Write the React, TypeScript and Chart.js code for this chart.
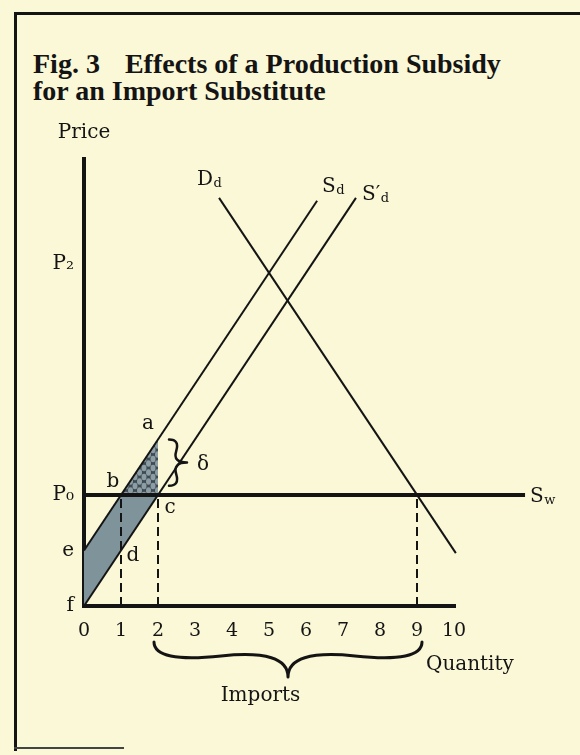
import React, { useEffect, useRef } from 'react';
import { Chart, registerables } from 'chart.js';

Chart.register(...registerables);

// Axis ticks
const quantityTicks = [0, 1, 2, 3, 4, 5, 6, 7, 8, 9, 10];
const priceTickValues = [0, 1.5, 3, 9.25];
const priceTickLabels = ['f', 'e', 'P₀', 'P₂'];

// Curves as (quantity, price) end points
const worldPrice = 3;
const demandCurve = [{ x: 3.65, y: 11.03 }, { x: 10.05, y: 1.43 }];
const supplyCurve = [{ x: 0, y: 1.5 }, { x: 6.3, y: 10.95 }];
const subsidizedSupplyCurve = [{ x: 0, y: 0 }, { x: 7.35, y: 11.03 }];
const worldSupplyLine = [{ x: 0, y: worldPrice }, { x: 11.92, y: worldPrice }];
const quantityAxisLine = [{ x: 0, y: 0 }, { x: 10, y: 0 }];
const dropLineQuantities = [1, 2, 9];

// Shaded areas: producer gain (e-b-c-f) and the cost triangle (b-a-c)
const subsidyAreaTop = [{ x: 0, y: 1.5 }, { x: 1, y: 3 }, { x: 2, y: 3 }];
const subsidyAreaBottom = [{ x: 0, y: 0 }, { x: 2, y: 3 }];
const costAreaTop = [{ x: 1, y: 3 }, { x: 2, y: 4.5 }];
const costAreaBottom = [{ x: 1, y: 3 }, { x: 2, y: 3 }];

// Lettered points
const pointNames = ['a', 'b', 'c', 'd'];
const pointQuantities = [2, 1, 2, 1];
const pointPrices = [4.5, 3, 3, 1.5];

// Curve names (main letter + subscript)
const curveNames = ['D', 'S', 'S′', 'S'];
const curveSubscripts = ['d', 'd', 'd', 'w'];

// Bracketed ranges
const importsRange = [2, 9];
const subsidyGapPrices = [4.5, 3.25];

const INK = '#141414';
const SERIF = "'DejaVu Serif', serif";
const PAPER = '#fbf8d7';

function drawBrace(ctx: CanvasRenderingContext2D, x1: number, y1: number, x2: number, y2: number, w: number, q = 0.6) {
  let dx = x1 - x2;
  let dy = y1 - y2;
  const len = Math.sqrt(dx * dx + dy * dy);
  dx /= len;
  dy /= len;
  const qx1 = x1 + q * w * dy;
  const qy1 = y1 - q * w * dx;
  const qx2 = x1 - 0.25 * len * dx + (1 - q) * w * dy;
  const qy2 = y1 - 0.25 * len * dy - (1 - q) * w * dx;
  const tx = x1 - 0.5 * len * dx + w * dy;
  const ty = y1 - 0.5 * len * dy - w * dx;
  const qx3 = x2 + q * w * dy;
  const qy3 = y2 - q * w * dx;
  const qx4 = x1 - 0.75 * len * dx + (1 - q) * w * dy;
  const qy4 = y1 - 0.75 * len * dy - (1 - q) * w * dx;
  ctx.beginPath();
  ctx.moveTo(x1, y1);
  ctx.quadraticCurveTo(qx1, qy1, qx2, qy2);
  ctx.quadraticCurveTo(2 * qx2 - qx1, 2 * qy2 - qy1, tx, ty);
  ctx.moveTo(x2, y2);
  ctx.quadraticCurveTo(qx3, qy3, qx4, qy4);
  ctx.quadraticCurveTo(2 * qx4 - qx3, 2 * qy4 - qy3, tx, ty);
  ctx.stroke();
}

const annotationPlugin = {
  id: 'figureAnnotations',
  afterDatasetsDraw(chart: any) {
    const { ctx, chartArea } = chart;
    const xs = chart.scales.x;
    const ys = chart.scales.y;
    const px = (v: number) => xs.getPixelForValue(v);
    const py = (v: number) => ys.getPixelForValue(v);

    ctx.save();
    ctx.fillStyle = INK;
    ctx.strokeStyle = INK;
    ctx.font = `20px ${SERIF}`;
    ctx.textAlign = 'center';
    ctx.textBaseline = 'middle';

    const pointOffsets = [[-10, -16], [-8, -13], [12, 13], [12, 5]];
    pointNames.forEach((name, i) => {
      ctx.fillText(name, px(pointQuantities[i]) + pointOffsets[i][0], py(pointPrices[i]) + pointOffsets[i][1]);
    });

    const anchors = [demandCurve[0], supplyCurve[1], subsidizedSupplyCurve[1], worldSupplyLine[1]];
    const curveOffsets = [[-22, -18], [5, -14], [6, -3], [5, 2]];
    ctx.textAlign = 'left';
    curveNames.forEach((name, i) => {
      const lx = px(anchors[i].x) + curveOffsets[i][0];
      const ly = py(anchors[i].y) + curveOffsets[i][1];
      ctx.font = `20px ${SERIF}`;
      ctx.fillText(name, lx, ly);
      const wMain = ctx.measureText(name).width;
      ctx.font = `13px ${SERIF}`;
      ctx.fillText(curveSubscripts[i], lx + wMain + 0.5, ly + 4);
    });

    ctx.font = `20px ${SERIF}`;
    ctx.textAlign = 'center';
    ctx.fillText('Price', px(0), chartArea.top - 26);

    ctx.textAlign = 'left';
    ctx.fillText('Quantity', px(10) - 28, py(0) + 59);

    ctx.lineWidth = 3;
    ctx.lineCap = 'round';
    drawBrace(ctx, px(importsRange[0]) - 4, py(0) + 36, px(importsRange[1]) + 5, py(0) + 36, 35);
    ctx.textAlign = 'center';
    ctx.fillText('Imports', (px(importsRange[0]) + px(importsRange[1])) / 2 - 27, py(0) + 90);

    ctx.lineWidth = 2.5;
    drawBrace(ctx, px(2) + 11, py(subsidyGapPrices[0]), px(2) + 11, py(subsidyGapPrices[1]), -18);
    ctx.font = `20px ${SERIF}`;
    ctx.fillText('δ', px(2) + 45, py((subsidyGapPrices[0] + 3) / 2) - 2);

    ctx.restore();
  },
};

function makeHatch(): CanvasPattern | string {
  const size = 9;
  const tile = document.createElement('canvas');
  tile.width = size;
  tile.height = size;
  const t = tile.getContext('2d');
  if (!t) return '#5a686e';
  t.fillStyle = '#3f4b52';
  t.fillRect(0, 0, size, size);
  t.fillStyle = '#8c9da3';
  const h = size / 2;
  const blobs = [[h, h], [0, 0], [size, 0], [0, size], [size, size]];
  blobs.forEach(([bx, by]) => {
    t.beginPath();
    t.ellipse(bx, by, 2.5, 3.3, 0, 0, Math.PI * 2);
    t.fill();
  });
  const pattern = t.createPattern(tile, 'repeat');
  return pattern || '#5a686e';
}

export default function App() {
  const canvasRef = useRef<HTMLCanvasElement | null>(null);

  useEffect(() => {
    if (!canvasRef.current) return;
    const hatch = makeHatch();
    const line = (data: { x: number; y: number }[], width: number, extra: any = {}) => ({
      data,
      showLine: true,
      borderColor: INK,
      borderWidth: width,
      pointRadius: 0,
      fill: false,
      clip: false,
      order: 1,
      ...extra,
    });

    const dropLines = dropLineQuantities.map((q) =>
      line([{ x: q, y: 0 }, { x: q, y: worldPrice }], 2, { borderDash: [9, 5] })
    );

    const chart = new Chart(canvasRef.current, {
      type: 'scatter',
      data: {
        datasets: [
          line(subsidyAreaTop, 0, { fill: 1, backgroundColor: '#7f939a', order: 10 }),
          line(subsidyAreaBottom, 0, { order: 10 }),
          line(costAreaTop, 0, { fill: 3, backgroundColor: hatch, order: 9 }),
          line(costAreaBottom, 0, { order: 9 }),
          ...dropLines,
          line(supplyCurve, 2),
          line(subsidizedSupplyCurve, 2),
          line(demandCurve, 2),
          line(worldSupplyLine, 4),
          line(quantityAxisLine, 4, { borderCapStyle: 'square' }),
        ],
      },
      options: {
        animation: false,
        responsive: false,
        maintainAspectRatio: false,
        layout: { padding: { left: 44, right: 52, top: 159, bottom: 119 } },
        plugins: {
          legend: { display: false },
          tooltip: { enabled: false },
          title: { display: false },
        },
        scales: {
          x: {
            type: 'linear',
            min: 0,
            max: 12,
            grid: { display: false, drawTicks: false },
            border: { display: false },
            afterBuildTicks: (axis: any) => {
              axis.ticks = quantityTicks.map((v) => ({ value: v }));
            },
            afterFit: (axis: any) => {
              axis.height = 30;
            },
            ticks: {
              autoSkip: false,
              maxRotation: 0,
              padding: 14,
              color: INK,
              font: { family: SERIF, size: 19 },
              callback: (v: any) => String(v),
            },
          },
          y: {
            type: 'linear',
            min: 0,
            max: 12.08,
            grid: { display: false, drawTicks: false },
            border: { display: true, color: INK, width: 4 },
            afterBuildTicks: (axis: any) => {
              axis.ticks = priceTickValues.map((v) => ({ value: v }));
            },
            afterFit: (axis: any) => {
              axis.width = 40;
            },
            ticks: {
              autoSkip: false,
              padding: 10,
              color: INK,
              font: { family: SERIF, size: 20 },
              callback: (v: any) => {
                const i = priceTickValues.indexOf(Number(v));
                return i >= 0 ? priceTickLabels[i] : '';
              },
            },
          },
        },
      },
      plugins: [annotationPlugin],
    });

    return () => chart.destroy();
  }, []);

  return (
    <div
      style={{
        position: 'absolute',
        left: 0,
        top: 0,
        width: 580,
        height: 755,
        overflow: 'hidden',
        background: PAPER,
      }}
    >
      {/* page frame */}
      <div
        style={{
          position: 'absolute',
          left: 14,
          top: 12,
          width: 600,
          height: 736,
          borderLeft: `3px solid ${INK}`,
          borderTop: `3px solid ${INK}`,
        }}
      />
      <div
        style={{
          position: 'absolute',
          left: 14,
          top: 747,
          width: 110,
          height: 0,
          borderTop: `2px solid #444`,
        }}
      />
      <div
        style={{
          position: 'absolute',
          left: 33,
          top: 50,
          font: "bold 28px 'Liberation Serif', serif",
          lineHeight: '27px',
          color: INK,
          whiteSpace: 'nowrap',
        }}
      >
        <div>
          <span style={{ marginRight: 18 }}>Fig. 3</span> Effects of a Production Subsidy
        </div>
        <div>for an Import Substitute</div>
      </div>
      <canvas
        ref={canvasRef}
        width={580}
        height={755}
        style={{ position: 'absolute', left: 0, top: 0, width: 580, height: 755 }}
      />
    </div>
  );
}
